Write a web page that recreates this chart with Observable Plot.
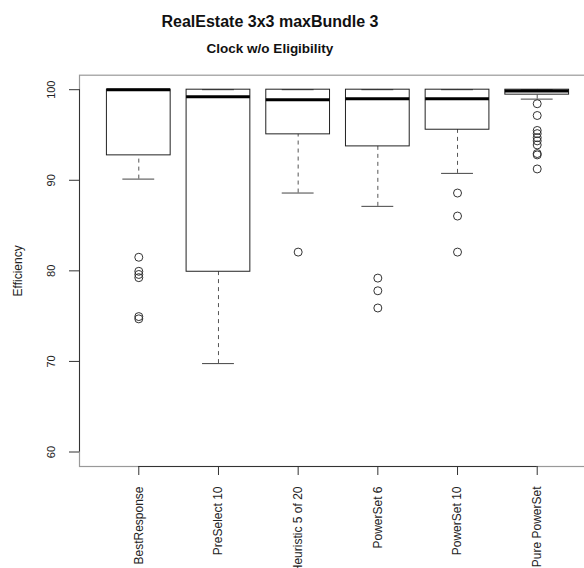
<!DOCTYPE html>
<html>
<head>
<meta charset="utf-8">
<script src="https://cdn.jsdelivr.net/npm/d3@7"></script>
<script src="https://cdn.jsdelivr.net/npm/@observablehq/plot@0.6"></script>
<style>
  html, body { margin: 0; padding: 0; background: #fff; overflow: hidden; }
  #wrap { position: relative; width: 584px; height: 568px; overflow: hidden; font-family: "Liberation Sans", Arial, sans-serif; }
  #wrap svg { position: absolute; left: 0; top: 0; max-width: none !important; }
  .ttl { position: absolute; left: 270px; transform: translateX(-50%); white-space: nowrap; font-weight: bold; color: #111; line-height: 1; z-index: 2; }
  #title { font-size: 16px; top: 13.8px; }
  #subtitle { font-size: 13.5px; top: 41.9px; }
</style>
</head>
<body>
<div id="wrap">
  <div id="title" class="ttl">RealEstate 3x3 maxBundle 3</div>
  <div id="subtitle" class="ttl">Clock w/o Eligibility</div>
</div>
<script>
// ---- data ----
const categories = ["BestResponse", "PreSelect 10", "Heuristic 5 of 20", "PowerSet 6", "PowerSet 10", "Pure PowerSet"];
const upperWhisker = [100, 100, 100, 100, 100, 100];
const upperQuartile = [100, 100, 100, 100, 100, 100];
const medians = [100, 99.23, 98.9, 99.0, 99.0, 99.85];
const lowerQuartile = [92.75, 79.9, 95.07, 93.74, 95.58, 99.45];
const lowerWhisker = [90.13, 69.76, 88.59, 87.12, 90.76, 98.96];
const outliersBestResponse = [81.5, 79.95, 79.6, 79.25, 74.95, 74.7];
const outliersPreSelect10 = [];
const outliersHeuristic = [82.07];
const outliersPowerSet6 = [79.2, 77.8, 75.9];
const outliersPowerSet10 = [88.59, 86.05, 82.07];
const outliersPurePowerSet = [98.45, 97.15, 95.5, 95.15, 94.7, 94.35, 93.9, 92.95, 92.8, 91.25];
const yTicks = [60, 70, 80, 90, 100];
const yTitle = "Efficiency";

// ---- build tables ----
const stats = categories.map((c, i) => ({
  pos: i + 1, name: c,
  hi: upperWhisker[i], q3: upperQuartile[i], med: medians[i], q1: lowerQuartile[i], lo: lowerWhisker[i]
}));
const outlierLists = [outliersBestResponse, outliersPreSelect10, outliersHeuristic, outliersPowerSet6, outliersPowerSet10, outliersPurePowerSet];
const outliers = outlierLists.flatMap((arr, i) => arr.map(v => ({pos: i + 1, v})));

const xDomain = [0.256, categories.length + 0.744];
const yDomain = [58.4, 101.6];
const boxHalf = 0.4, capHalf = 0.2;
const ink = "#222";

const chart = Plot.plot({
  width: 600,
  height: 568,
  marginLeft: 79,
  marginRight: 4,
  marginTop: 74.7,
  marginBottom: 102,
  style: {fontFamily: "'Liberation Sans', Arial, sans-serif", background: "transparent", color: "#222", maxWidth: "none"},
  x: {type: "linear", domain: xDomain},
  y: {domain: yDomain},
  marks: [
    Plot.frame({stroke: "#999", strokeWidth: 1.2}),
    // whiskers (dashed)
    Plot.ruleX(stats, {x: "pos", y1: "lo", y2: "q1", stroke: "#555", strokeDasharray: "4,4"}),
    Plot.ruleX(stats, {x: "pos", y1: "q3", y2: "hi", stroke: "#555", strokeDasharray: "4,4"}),
    // staples
    Plot.ruleY(stats, {y: "lo", x1: d => d.pos - capHalf, x2: d => d.pos + capHalf, stroke: "#444"}),
    Plot.ruleY(stats, {y: "hi", x1: d => d.pos - capHalf, x2: d => d.pos + capHalf, stroke: "#444"}),
    // boxes
    Plot.rect(stats, {x1: d => d.pos - boxHalf, x2: d => d.pos + boxHalf, y1: "q1", y2: "q3", stroke: ink, fill: "none", strokeWidth: 1}),
    // medians
    Plot.ruleY(stats, {y: "med", x1: d => d.pos - boxHalf, x2: d => d.pos + boxHalf, stroke: "#000", strokeWidth: 3}),
    // outliers
    Plot.dot(outliers, {x: "pos", y: "v", r: 4, stroke: "#333", fill: "none", strokeWidth: 1}),
    // axis lines
    Plot.ruleX([xDomain[0]], {y1: yTicks[0], y2: yTicks[yTicks.length - 1], stroke: "#333"}),
    Plot.ruleY([yDomain[0]], {x1: 1, x2: categories.length, stroke: "#333"}),
    // axes
    Plot.axisX({
      ticks: d3.range(1, categories.length + 1),
      tickFormat: d => categories[d - 1],
      tickSize: 9, tickPadding: 11, tickRotate: -90,
      textAnchor: "end", lineAnchor: "middle",
      fontSize: 12, label: null, stroke: "#333", fill: "#222"
    }),
    Plot.axisY({
      ticks: yTicks,
      tickSize: 10, tickFormat: () => "",
      label: null, stroke: "#333"
    }),
    Plot.text(yTicks, {y: d => d, text: d => String(d), frameAnchor: "left", dx: -28, rotate: -90, fontSize: 11, fill: "#222", textAnchor: "middle", lineAnchor: "middle"}),
    Plot.text([yTitle], {frameAnchor: "left", dx: -61, rotate: -90, fontSize: 12, fill: "#222", lineAnchor: "middle", textAnchor: "middle"})
  ]
});
document.getElementById("wrap").appendChild(chart);
</script>
</body>
</html>
